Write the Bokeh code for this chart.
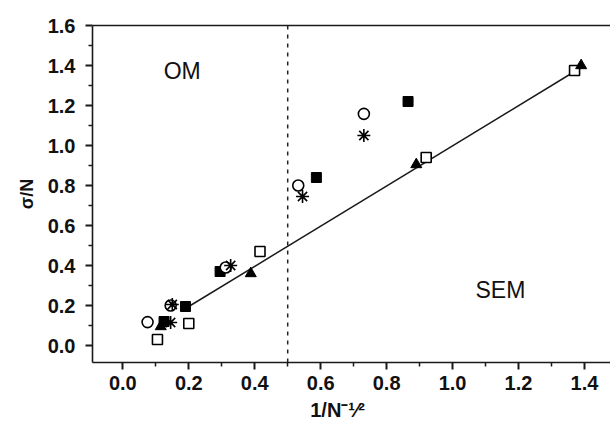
from bokeh.plotting import figure
from bokeh.models import LinearAxis, FixedTicker, Label, Span, PrintfTickFormatter, Range1d
from bokeh.embed import file_html
from bokeh.resources import INLINE

# ---- data ----
open_sq_x = [0.105, 0.200, 0.416, 0.920, 1.370]
open_sq_y = [0.030, 0.110, 0.470, 0.940, 1.375]
tri_x = [0.115, 0.388, 0.890, 1.390]
tri_y = [0.095, 0.360, 0.905, 1.400]
fsq_x = [0.125, 0.190, 0.295, 0.587, 0.865]
fsq_y = [0.120, 0.195, 0.370, 0.840, 1.220]
circ_x = [0.075, 0.145, 0.312, 0.532, 0.731]
circ_y = [0.117, 0.200, 0.390, 0.800, 1.158]
ast_x = [0.145, 0.150, 0.327, 0.545, 0.731]
ast_y = [0.115, 0.205, 0.400, 0.745, 1.050]
fit_x = [0.190, 1.390]
fit_y = [0.185, 1.390]
boundary_x = 0.5
x_ticks = [0.0, 0.2, 0.4, 0.6, 0.8, 1.0, 1.2, 1.4]
y_ticks = [0.0, 0.2, 0.4, 0.6, 0.8, 1.0, 1.2, 1.4, 1.6]

FONT = "Liberation Sans"
INK = "#111111"

p = figure(width=610, height=429, output_backend="svg", toolbar_location=None,
           x_range=Range1d(-0.092, 1.479), y_range=Range1d(-0.085, 1.6),
           min_border_left=92, min_border_right=0, min_border_top=25, min_border_bottom=67)
p.outline_line_color = None
p.grid.visible = False
p.background_fill_color = "white"
p.border_fill_color = "white"

for ax in (p.xaxis[0], p.yaxis[0]):
    ax.axis_line_width = 1.6
    ax.axis_line_color = "#1a1a1a"
    ax.major_tick_line_color = "#1a1a1a"
    ax.minor_tick_line_color = "#1a1a1a"
    ax.major_tick_line_width = 2
    ax.minor_tick_line_width = 1.5
    ax.major_tick_out = 7
    ax.major_tick_in = 0
    ax.minor_tick_out = 4
    ax.minor_tick_in = 0
    ax.major_label_text_font = FONT
    ax.major_label_text_font_size = "20px"
    ax.major_label_text_font_style = "bold"
    ax.major_label_text_color = INK
    ax.formatter = PrintfTickFormatter(format="%.1f")
    ax.axis_label_text_font = FONT
    ax.axis_label_text_font_style = "bold"
    ax.axis_label_text_color = INK

p.xaxis[0].ticker = FixedTicker(ticks=x_ticks, minor_ticks=[0.1, 0.3, 0.5, 0.7, 0.9, 1.1, 1.3])
p.yaxis[0].ticker = FixedTicker(ticks=y_ticks, minor_ticks=[0.1, 0.3, 0.5, 0.7, 0.9, 1.1, 1.3, 1.5, -0.1])
p.xaxis[0].major_label_standoff = 6
p.yaxis[0].major_label_standoff = 10

p.yaxis[0].axis_label = "σ/N"
p.yaxis[0].axis_label_text_font_size = "18px"
p.yaxis[0].axis_label_standoff = 8

# x axis label 1/N^(-1/2), padded so that it sits a little left of centre as in the original
p.xaxis[0].axis_label = "1/N\u207b\u00b9\u2044\u00b2" + "\u00a0" * 5
p.xaxis[0].axis_label_text_font_size = "20px"
p.xaxis[0].axis_label_standoff = 6

top = LinearAxis(ticker=FixedTicker(ticks=[]), major_label_text_font_size="0px",
                 axis_line_width=1.6, axis_line_color="#1a1a1a",
                 major_tick_line_color=None, minor_tick_line_color=None)
p.add_layout(top, "above")

# boundary line
p.add_layout(Span(location=boundary_x, dimension="height", line_color="#222222",
                  line_width=1.5, line_dash="4 5"))

# fit line
p.line(fit_x, fit_y, line_color="#1a1a1a", line_width=1.5)

# markers
p.scatter(open_sq_x, open_sq_y, marker="square", size=10, fill_color="white",
          line_color="black", line_width=1.6)
p.scatter(tri_x, tri_y, marker="triangle", size=11, fill_color="black",
          line_color="black", line_width=1)
p.scatter(fsq_x, fsq_y, marker="square", size=10, fill_color="black",
          line_color="black", line_width=1)
p.scatter(circ_x, circ_y, marker="circle", size=11, fill_color="white",
          line_color="black", line_width=1.6)
p.scatter(ast_x, ast_y, marker="asterisk", size=13, fill_color=None,
          line_color="black", line_width=1.6)

# region labels
p.add_layout(Label(x=0.18, y=1.375, text="OM", text_font=FONT, text_font_size="23px",
                   text_align="center", text_baseline="alphabetic", text_color=INK))
p.add_layout(Label(x=1.145, y=0.28, text="SEM", text_font=FONT, text_font_size="23px",
                   text_align="center", text_baseline="alphabetic", text_color=INK))

open("out.html", "w").write(file_html(p, INLINE))
